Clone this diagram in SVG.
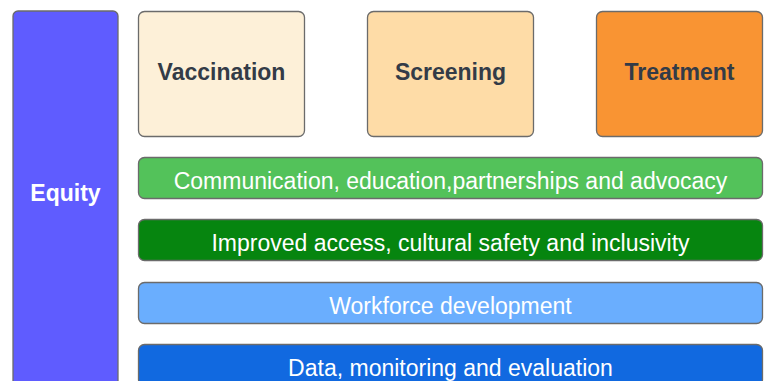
<svg xmlns="http://www.w3.org/2000/svg" width="768" height="381" viewBox="0 0 768 381">
  <style>
    .box { stroke: #6b6b6b; stroke-width: 1.3; }
    .head { font-family: "Liberation Sans", Arial, sans-serif; font-weight: bold; font-size: 23px; fill: #333b47; text-anchor: middle; }
    .bar { font-family: "Liberation Sans", Arial, sans-serif; font-size: 23px; fill: #ffffff; text-anchor: middle; }
    .side { font-family: "Liberation Sans", Arial, sans-serif; font-weight: bold; font-size: 23px; fill: #ffffff; text-anchor: middle; }
  </style>
  <rect width="768" height="381" fill="#ffffff"/>

  <g id="equity">
    <rect class="box" x="13" y="11" width="105" height="390" rx="5" fill="#5f5cff"/>
    <text class="side" x="65.5" y="201">Equity</text>
  </g>

  <g id="vaccination">
    <rect class="box" x="138.5" y="11.5" width="166" height="125" rx="6" fill="#fdf0d8"/>
    <text class="head" x="221.5" y="80">Vaccination</text>
  </g>

  <g id="screening">
    <rect class="box" x="367.5" y="11.5" width="166" height="125" rx="6" fill="#fedca7"/>
    <text class="head" x="450.5" y="80">Screening</text>
  </g>

  <g id="treatment">
    <rect class="box" x="596.5" y="11.5" width="166" height="125" rx="6" fill="#f99433"/>
    <text class="head" x="679.5" y="80">Treatment</text>
  </g>

  <g id="communication">
    <rect class="box" x="138.5" y="157.5" width="624" height="41" rx="6" fill="#53c25a"/>
    <text class="bar" x="450.5" y="189">Communication, education,partnerships and advocacy</text>
  </g>

  <g id="access">
    <rect class="box" x="138.5" y="219.5" width="624" height="41" rx="6" fill="#06850f"/>
    <text class="bar" x="450.5" y="251">Improved access, cultural safety and inclusivity</text>
  </g>

  <g id="workforce">
    <rect class="box" x="138.5" y="282.5" width="624" height="41" rx="6" fill="#6aaefe"/>
    <text class="bar" x="450.5" y="314">Workforce development</text>
  </g>

  <g id="data">
    <rect class="box" x="138.5" y="344.5" width="624" height="41" rx="6" fill="#1169e0"/>
    <text class="bar" x="450.5" y="376">Data, monitoring and evaluation</text>
  </g>

  <g id="connectors"></g>
</svg>
